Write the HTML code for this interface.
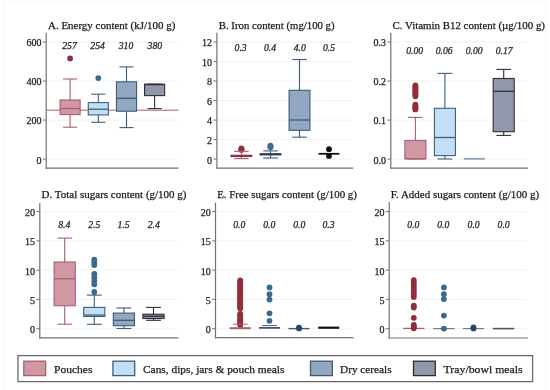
<!DOCTYPE html>
<html><head><meta charset="utf-8"><style>
html,body{margin:0;padding:0;background:#fff;width:550px;height:390px;overflow:hidden}
svg{display:block}
text{font-family:"Liberation Serif", serif;fill:#1c1c1c;stroke:#1c1c1c;stroke-width:0.25px}
.T{filter:grayscale(1)}
.tk{font-size:10px}
.tt{font-size:10.4px}
.lb{font-size:9.7px;font-style:italic}
.lg{font-size:10.6px}
</style></head><body>
<svg width="550" height="390" viewBox="0 0 550 390">
<rect width="550" height="390" fill="#fff"/>
<line x1="47.20" y1="159.10" x2="177.30" y2="159.10" stroke="#eff3f3" stroke-width="1"/>
<line x1="47.20" y1="120.07" x2="177.30" y2="120.07" stroke="#eff3f3" stroke-width="1"/>
<line x1="47.20" y1="81.03" x2="177.30" y2="81.03" stroke="#eff3f3" stroke-width="1"/>
<line x1="47.20" y1="42.00" x2="177.30" y2="42.00" stroke="#eff3f3" stroke-width="1"/>
<line x1="46.20" y1="32.80" x2="46.20" y2="168.70" stroke="#727272" stroke-width="1.2"/>
<line x1="45.60" y1="168.10" x2="178.50" y2="168.10" stroke="#727272" stroke-width="1.2"/>
<line x1="42.80" y1="159.10" x2="46.20" y2="159.10" stroke="#727272" stroke-width="1"/>
<line x1="42.80" y1="120.07" x2="46.20" y2="120.07" stroke="#727272" stroke-width="1"/>
<line x1="42.80" y1="81.03" x2="46.20" y2="81.03" stroke="#727272" stroke-width="1"/>
<line x1="42.80" y1="42.00" x2="46.20" y2="42.00" stroke="#727272" stroke-width="1"/>
<line x1="46.80" y1="110.20" x2="178.50" y2="110.20" stroke="#b55a68" stroke-width="1.0"/>
<circle cx="70.10" cy="58.40" r="2.9" fill="#922e3c"/>
<line x1="70.10" y1="79.00" x2="70.10" y2="100.00" stroke="#a4606e" stroke-width="1.1"/>
<line x1="70.10" y1="114.60" x2="70.10" y2="127.20" stroke="#a4606e" stroke-width="1.1"/>
<line x1="63.06" y1="79.00" x2="77.14" y2="79.00" stroke="#a4606e" stroke-width="1.1"/>
<line x1="63.06" y1="127.20" x2="77.14" y2="127.20" stroke="#a4606e" stroke-width="1.1"/>
<rect x="60.06" y="100.00" width="20.08" height="14.60" fill="#cf98a2" stroke="#a4606e" stroke-width="1.1"/>
<line x1="60.06" y1="108.50" x2="80.14" y2="108.50" stroke="#a4606e" stroke-width="1.3"/>
<circle cx="98.30" cy="78.10" r="2.9" fill="#3b6a8c"/>
<line x1="98.30" y1="94.20" x2="98.30" y2="102.60" stroke="#3d5e80" stroke-width="1.1"/>
<line x1="98.30" y1="114.90" x2="98.30" y2="122.30" stroke="#3d5e80" stroke-width="1.1"/>
<line x1="91.26" y1="94.20" x2="105.34" y2="94.20" stroke="#3d5e80" stroke-width="1.1"/>
<line x1="91.26" y1="122.30" x2="105.34" y2="122.30" stroke="#3d5e80" stroke-width="1.1"/>
<rect x="88.26" y="102.60" width="20.08" height="12.30" fill="#c3dff5" stroke="#3d5e80" stroke-width="1.1"/>
<line x1="88.26" y1="109.20" x2="108.34" y2="109.20" stroke="#3d5e80" stroke-width="1.3"/>
<line x1="126.50" y1="66.90" x2="126.50" y2="81.80" stroke="#3e5a7a" stroke-width="1.1"/>
<line x1="126.50" y1="111.20" x2="126.50" y2="127.60" stroke="#3e5a7a" stroke-width="1.1"/>
<line x1="119.46" y1="66.90" x2="133.54" y2="66.90" stroke="#3e5a7a" stroke-width="1.1"/>
<line x1="119.46" y1="127.60" x2="133.54" y2="127.60" stroke="#3e5a7a" stroke-width="1.1"/>
<rect x="116.46" y="81.80" width="20.08" height="29.40" fill="#91a8c0" stroke="#3e5a7a" stroke-width="1.1"/>
<line x1="116.46" y1="98.30" x2="136.54" y2="98.30" stroke="#3e5a7a" stroke-width="1.3"/>
<line x1="154.60" y1="84.20" x2="154.60" y2="84.20" stroke="#2e2e36" stroke-width="1.1"/>
<line x1="154.60" y1="95.60" x2="154.60" y2="108.60" stroke="#2e2e36" stroke-width="1.1"/>
<line x1="147.56" y1="84.20" x2="161.64" y2="84.20" stroke="#2e2e36" stroke-width="1.1"/>
<line x1="147.56" y1="108.60" x2="161.64" y2="108.60" stroke="#2e2e36" stroke-width="1.1"/>
<rect x="144.56" y="84.20" width="20.08" height="11.40" fill="#9198ac" stroke="#2e2e36" stroke-width="1.1"/>
<line x1="144.56" y1="84.60" x2="164.64" y2="84.60" stroke="#2e2e36" stroke-width="1.3"/>
<line x1="217.90" y1="159.10" x2="352.10" y2="159.10" stroke="#eff3f3" stroke-width="1"/>
<line x1="217.90" y1="139.58" x2="352.10" y2="139.58" stroke="#eff3f3" stroke-width="1"/>
<line x1="217.90" y1="120.07" x2="352.10" y2="120.07" stroke="#eff3f3" stroke-width="1"/>
<line x1="217.90" y1="100.55" x2="352.10" y2="100.55" stroke="#eff3f3" stroke-width="1"/>
<line x1="217.90" y1="81.03" x2="352.10" y2="81.03" stroke="#eff3f3" stroke-width="1"/>
<line x1="217.90" y1="61.52" x2="352.10" y2="61.52" stroke="#eff3f3" stroke-width="1"/>
<line x1="217.90" y1="42.00" x2="352.10" y2="42.00" stroke="#eff3f3" stroke-width="1"/>
<line x1="216.90" y1="32.80" x2="216.90" y2="168.80" stroke="#727272" stroke-width="1.2"/>
<line x1="216.30" y1="168.20" x2="353.30" y2="168.20" stroke="#727272" stroke-width="1.2"/>
<line x1="213.50" y1="159.10" x2="216.90" y2="159.10" stroke="#727272" stroke-width="1"/>
<line x1="213.50" y1="139.58" x2="216.90" y2="139.58" stroke="#727272" stroke-width="1"/>
<line x1="213.50" y1="120.07" x2="216.90" y2="120.07" stroke="#727272" stroke-width="1"/>
<line x1="213.50" y1="100.55" x2="216.90" y2="100.55" stroke="#727272" stroke-width="1"/>
<line x1="213.50" y1="81.03" x2="216.90" y2="81.03" stroke="#727272" stroke-width="1"/>
<line x1="213.50" y1="61.52" x2="216.90" y2="61.52" stroke="#727272" stroke-width="1"/>
<line x1="213.50" y1="42.00" x2="216.90" y2="42.00" stroke="#727272" stroke-width="1"/>
<circle cx="241.40" cy="148.40" r="2.9" fill="#922e3c"/>
<circle cx="241.40" cy="149.15" r="2.9" fill="#922e3c"/>
<circle cx="241.40" cy="149.90" r="2.9" fill="#922e3c"/>
<line x1="241.40" y1="151.30" x2="241.40" y2="155.30" stroke="#a4606e" stroke-width="1.1"/>
<line x1="241.40" y1="156.50" x2="241.40" y2="158.60" stroke="#a4606e" stroke-width="1.1"/>
<line x1="234.10" y1="151.30" x2="248.70" y2="151.30" stroke="#a4606e" stroke-width="1.1"/>
<line x1="234.10" y1="158.60" x2="248.70" y2="158.60" stroke="#a4606e" stroke-width="1.1"/>
<rect x="230.97" y="155.30" width="20.85" height="1.20" fill="#8f2b3c" stroke="#8f2b3c" stroke-width="1.1"/>
<circle cx="270.50" cy="145.60" r="2.9" fill="#3b6a8c"/>
<circle cx="270.50" cy="146.45" r="2.9" fill="#3b6a8c"/>
<circle cx="270.50" cy="147.30" r="2.9" fill="#3b6a8c"/>
<line x1="270.50" y1="150.90" x2="270.50" y2="153.70" stroke="#3d5e80" stroke-width="1.1"/>
<line x1="270.50" y1="154.90" x2="270.50" y2="158.00" stroke="#3d5e80" stroke-width="1.1"/>
<line x1="263.20" y1="150.90" x2="277.80" y2="150.90" stroke="#3d5e80" stroke-width="1.1"/>
<line x1="263.20" y1="158.00" x2="277.80" y2="158.00" stroke="#3d5e80" stroke-width="1.1"/>
<rect x="260.07" y="153.70" width="20.85" height="1.20" fill="#2c3c62" stroke="#2c3c62" stroke-width="1.1"/>
<line x1="299.50" y1="59.50" x2="299.50" y2="90.30" stroke="#3e5a7a" stroke-width="1.1"/>
<line x1="299.50" y1="130.30" x2="299.50" y2="137.20" stroke="#3e5a7a" stroke-width="1.1"/>
<line x1="292.20" y1="59.50" x2="306.80" y2="59.50" stroke="#3e5a7a" stroke-width="1.1"/>
<line x1="292.20" y1="137.20" x2="306.80" y2="137.20" stroke="#3e5a7a" stroke-width="1.1"/>
<rect x="289.07" y="90.30" width="20.85" height="40.00" fill="#91a8c0" stroke="#3e5a7a" stroke-width="1.1"/>
<line x1="289.07" y1="120.00" x2="309.93" y2="120.00" stroke="#3e5a7a" stroke-width="1.3"/>
<circle cx="329.00" cy="149.20" r="2.9" fill="#111111"/>
<circle cx="329.00" cy="155.90" r="2.9" fill="#111111"/>
<line x1="318.57" y1="153.80" x2="339.43" y2="153.80" stroke="#111" stroke-width="1.8"/>
<line x1="391.80" y1="159.10" x2="526.80" y2="159.10" stroke="#eff3f3" stroke-width="1"/>
<line x1="391.80" y1="120.07" x2="526.80" y2="120.07" stroke="#eff3f3" stroke-width="1"/>
<line x1="391.80" y1="81.03" x2="526.80" y2="81.03" stroke="#eff3f3" stroke-width="1"/>
<line x1="391.80" y1="42.00" x2="526.80" y2="42.00" stroke="#eff3f3" stroke-width="1"/>
<line x1="390.80" y1="32.80" x2="390.80" y2="168.70" stroke="#727272" stroke-width="1.2"/>
<line x1="390.20" y1="168.10" x2="528.00" y2="168.10" stroke="#727272" stroke-width="1.2"/>
<line x1="387.40" y1="159.10" x2="390.80" y2="159.10" stroke="#727272" stroke-width="1"/>
<line x1="387.40" y1="120.07" x2="390.80" y2="120.07" stroke="#727272" stroke-width="1"/>
<line x1="387.40" y1="81.03" x2="390.80" y2="81.03" stroke="#727272" stroke-width="1"/>
<line x1="387.40" y1="42.00" x2="390.80" y2="42.00" stroke="#727272" stroke-width="1"/>
<circle cx="415.40" cy="85.50" r="2.9" fill="#922e3c"/>
<circle cx="415.40" cy="86.70" r="2.9" fill="#922e3c"/>
<circle cx="415.40" cy="87.90" r="2.9" fill="#922e3c"/>
<circle cx="415.40" cy="89.10" r="2.9" fill="#922e3c"/>
<circle cx="415.40" cy="90.30" r="2.9" fill="#922e3c"/>
<circle cx="415.40" cy="91.50" r="2.9" fill="#922e3c"/>
<circle cx="415.40" cy="92.70" r="2.9" fill="#922e3c"/>
<circle cx="415.40" cy="93.90" r="2.9" fill="#922e3c"/>
<circle cx="415.40" cy="95.10" r="2.9" fill="#922e3c"/>
<circle cx="415.40" cy="96.30" r="2.9" fill="#922e3c"/>
<circle cx="415.40" cy="104.60" r="2.9" fill="#922e3c"/>
<circle cx="415.40" cy="105.80" r="2.9" fill="#922e3c"/>
<circle cx="415.40" cy="107.00" r="2.9" fill="#922e3c"/>
<circle cx="415.40" cy="108.20" r="2.9" fill="#922e3c"/>
<circle cx="415.40" cy="109.40" r="2.9" fill="#922e3c"/>
<line x1="415.40" y1="117.40" x2="415.40" y2="140.40" stroke="#a4606e" stroke-width="1.1"/>
<line x1="415.40" y1="158.80" x2="415.40" y2="158.80" stroke="#a4606e" stroke-width="1.1"/>
<line x1="408.04" y1="117.40" x2="422.76" y2="117.40" stroke="#a4606e" stroke-width="1.1"/>
<line x1="408.04" y1="158.80" x2="422.76" y2="158.80" stroke="#a4606e" stroke-width="1.1"/>
<rect x="404.89" y="140.40" width="21.03" height="18.40" fill="#cf98a2" stroke="#a4606e" stroke-width="1.1"/>
<line x1="404.89" y1="158.80" x2="425.91" y2="158.80" stroke="#a4606e" stroke-width="1.3"/>
<line x1="444.90" y1="73.40" x2="444.90" y2="108.30" stroke="#3d5e80" stroke-width="1.1"/>
<line x1="444.90" y1="155.60" x2="444.90" y2="159.00" stroke="#3d5e80" stroke-width="1.1"/>
<line x1="437.54" y1="73.40" x2="452.26" y2="73.40" stroke="#3d5e80" stroke-width="1.1"/>
<line x1="437.54" y1="159.00" x2="452.26" y2="159.00" stroke="#3d5e80" stroke-width="1.1"/>
<rect x="434.39" y="108.30" width="21.03" height="47.30" fill="#c3dff5" stroke="#3d5e80" stroke-width="1.1"/>
<line x1="434.39" y1="137.50" x2="455.41" y2="137.50" stroke="#3d5e80" stroke-width="1.3"/>
<line x1="463.79" y1="158.90" x2="484.81" y2="158.90" stroke="#6b84a0" stroke-width="1.3"/>
<line x1="503.70" y1="69.40" x2="503.70" y2="78.50" stroke="#2e2e36" stroke-width="1.1"/>
<line x1="503.70" y1="131.70" x2="503.70" y2="135.40" stroke="#2e2e36" stroke-width="1.1"/>
<line x1="496.34" y1="69.40" x2="511.06" y2="69.40" stroke="#2e2e36" stroke-width="1.1"/>
<line x1="496.34" y1="135.40" x2="511.06" y2="135.40" stroke="#2e2e36" stroke-width="1.1"/>
<rect x="493.19" y="78.50" width="21.03" height="53.20" fill="#9198ac" stroke="#2e2e36" stroke-width="1.1"/>
<line x1="493.19" y1="91.30" x2="514.21" y2="91.30" stroke="#2e2e36" stroke-width="1.3"/>
<line x1="40.80" y1="328.70" x2="177.20" y2="328.70" stroke="#eff3f3" stroke-width="1"/>
<line x1="40.80" y1="299.43" x2="177.20" y2="299.43" stroke="#eff3f3" stroke-width="1"/>
<line x1="40.80" y1="270.15" x2="177.20" y2="270.15" stroke="#eff3f3" stroke-width="1"/>
<line x1="40.80" y1="240.88" x2="177.20" y2="240.88" stroke="#eff3f3" stroke-width="1"/>
<line x1="40.80" y1="211.60" x2="177.20" y2="211.60" stroke="#eff3f3" stroke-width="1"/>
<line x1="39.80" y1="203.00" x2="39.80" y2="338.40" stroke="#727272" stroke-width="1.2"/>
<line x1="39.20" y1="337.80" x2="178.40" y2="337.80" stroke="#727272" stroke-width="1.2"/>
<line x1="36.40" y1="328.70" x2="39.80" y2="328.70" stroke="#727272" stroke-width="1"/>
<line x1="36.40" y1="299.43" x2="39.80" y2="299.43" stroke="#727272" stroke-width="1"/>
<line x1="36.40" y1="270.15" x2="39.80" y2="270.15" stroke="#727272" stroke-width="1"/>
<line x1="36.40" y1="240.88" x2="39.80" y2="240.88" stroke="#727272" stroke-width="1"/>
<line x1="36.40" y1="211.60" x2="39.80" y2="211.60" stroke="#727272" stroke-width="1"/>
<line x1="64.70" y1="238.10" x2="64.70" y2="262.00" stroke="#a4606e" stroke-width="1.1"/>
<line x1="64.70" y1="305.70" x2="64.70" y2="324.20" stroke="#a4606e" stroke-width="1.1"/>
<line x1="57.30" y1="238.10" x2="72.10" y2="238.10" stroke="#a4606e" stroke-width="1.1"/>
<line x1="57.30" y1="324.20" x2="72.10" y2="324.20" stroke="#a4606e" stroke-width="1.1"/>
<rect x="54.12" y="262.00" width="21.15" height="43.70" fill="#cf98a2" stroke="#a4606e" stroke-width="1.1"/>
<line x1="54.12" y1="278.80" x2="75.28" y2="278.80" stroke="#a4606e" stroke-width="1.3"/>
<circle cx="94.30" cy="259.70" r="2.9" fill="#3b6a8c"/>
<circle cx="94.30" cy="262.30" r="2.9" fill="#3b6a8c"/>
<circle cx="94.30" cy="265.00" r="2.9" fill="#3b6a8c"/>
<circle cx="94.30" cy="274.00" r="2.9" fill="#3b6a8c"/>
<circle cx="94.30" cy="277.40" r="2.9" fill="#3b6a8c"/>
<circle cx="94.30" cy="280.80" r="2.9" fill="#3b6a8c"/>
<circle cx="94.30" cy="284.30" r="2.9" fill="#3b6a8c"/>
<circle cx="94.30" cy="292.00" r="2.9" fill="#3b6a8c"/>
<line x1="94.30" y1="295.10" x2="94.30" y2="307.40" stroke="#3d5e80" stroke-width="1.1"/>
<line x1="94.30" y1="316.50" x2="94.30" y2="324.30" stroke="#3d5e80" stroke-width="1.1"/>
<line x1="86.90" y1="295.10" x2="101.70" y2="295.10" stroke="#3d5e80" stroke-width="1.1"/>
<line x1="86.90" y1="324.30" x2="101.70" y2="324.30" stroke="#3d5e80" stroke-width="1.1"/>
<rect x="83.72" y="307.40" width="21.15" height="9.10" fill="#c3dff5" stroke="#3d5e80" stroke-width="1.1"/>
<line x1="83.72" y1="315.10" x2="104.88" y2="315.10" stroke="#3d5e80" stroke-width="1.3"/>
<line x1="123.90" y1="308.00" x2="123.90" y2="313.10" stroke="#3e5a7a" stroke-width="1.1"/>
<line x1="123.90" y1="325.70" x2="123.90" y2="328.50" stroke="#3e5a7a" stroke-width="1.1"/>
<line x1="116.50" y1="308.00" x2="131.30" y2="308.00" stroke="#3e5a7a" stroke-width="1.1"/>
<line x1="116.50" y1="328.50" x2="131.30" y2="328.50" stroke="#3e5a7a" stroke-width="1.1"/>
<rect x="113.32" y="313.10" width="21.15" height="12.60" fill="#91a8c0" stroke="#3e5a7a" stroke-width="1.1"/>
<line x1="113.32" y1="320.30" x2="134.48" y2="320.30" stroke="#3e5a7a" stroke-width="1.3"/>
<line x1="153.50" y1="307.40" x2="153.50" y2="314.20" stroke="#2e2e36" stroke-width="1.1"/>
<line x1="153.50" y1="318.50" x2="153.50" y2="320.30" stroke="#2e2e36" stroke-width="1.1"/>
<line x1="146.10" y1="307.40" x2="160.90" y2="307.40" stroke="#2e2e36" stroke-width="1.1"/>
<line x1="146.10" y1="320.30" x2="160.90" y2="320.30" stroke="#2e2e36" stroke-width="1.1"/>
<rect x="142.92" y="314.20" width="21.15" height="4.30" fill="#9198ac" stroke="#2e2e36" stroke-width="1.1"/>
<line x1="142.92" y1="316.20" x2="164.08" y2="316.20" stroke="#2e2e36" stroke-width="1.3"/>
<line x1="216.50" y1="328.70" x2="352.30" y2="328.70" stroke="#eff3f3" stroke-width="1"/>
<line x1="216.50" y1="299.43" x2="352.30" y2="299.43" stroke="#eff3f3" stroke-width="1"/>
<line x1="216.50" y1="270.15" x2="352.30" y2="270.15" stroke="#eff3f3" stroke-width="1"/>
<line x1="216.50" y1="240.88" x2="352.30" y2="240.88" stroke="#eff3f3" stroke-width="1"/>
<line x1="216.50" y1="211.60" x2="352.30" y2="211.60" stroke="#eff3f3" stroke-width="1"/>
<line x1="215.50" y1="202.70" x2="215.50" y2="338.30" stroke="#727272" stroke-width="1.2"/>
<line x1="214.90" y1="337.70" x2="353.50" y2="337.70" stroke="#727272" stroke-width="1.2"/>
<line x1="212.10" y1="328.70" x2="215.50" y2="328.70" stroke="#727272" stroke-width="1"/>
<line x1="212.10" y1="299.43" x2="215.50" y2="299.43" stroke="#727272" stroke-width="1"/>
<line x1="212.10" y1="270.15" x2="215.50" y2="270.15" stroke="#727272" stroke-width="1"/>
<line x1="212.10" y1="240.88" x2="215.50" y2="240.88" stroke="#727272" stroke-width="1"/>
<line x1="212.10" y1="211.60" x2="215.50" y2="211.60" stroke="#727272" stroke-width="1"/>
<circle cx="240.20" cy="280.40" r="2.9" fill="#922e3c"/>
<circle cx="240.20" cy="281.80" r="2.9" fill="#922e3c"/>
<circle cx="240.20" cy="283.20" r="2.9" fill="#922e3c"/>
<circle cx="240.20" cy="284.60" r="2.9" fill="#922e3c"/>
<circle cx="240.20" cy="286.00" r="2.9" fill="#922e3c"/>
<circle cx="240.20" cy="287.40" r="2.9" fill="#922e3c"/>
<circle cx="240.20" cy="288.80" r="2.9" fill="#922e3c"/>
<circle cx="240.20" cy="290.20" r="2.9" fill="#922e3c"/>
<circle cx="240.20" cy="291.60" r="2.9" fill="#922e3c"/>
<circle cx="240.20" cy="293.00" r="2.9" fill="#922e3c"/>
<circle cx="240.20" cy="294.40" r="2.9" fill="#922e3c"/>
<circle cx="240.20" cy="295.80" r="2.9" fill="#922e3c"/>
<circle cx="240.20" cy="297.20" r="2.9" fill="#922e3c"/>
<circle cx="240.20" cy="298.60" r="2.9" fill="#922e3c"/>
<circle cx="240.20" cy="300.00" r="2.9" fill="#922e3c"/>
<circle cx="240.20" cy="301.40" r="2.9" fill="#922e3c"/>
<circle cx="240.20" cy="302.80" r="2.9" fill="#922e3c"/>
<circle cx="240.20" cy="304.20" r="2.9" fill="#922e3c"/>
<circle cx="240.20" cy="305.60" r="2.9" fill="#922e3c"/>
<circle cx="240.20" cy="307.00" r="2.9" fill="#922e3c"/>
<circle cx="240.20" cy="308.40" r="2.9" fill="#922e3c"/>
<circle cx="240.20" cy="313.80" r="2.9" fill="#922e3c"/>
<circle cx="240.20" cy="315.20" r="2.9" fill="#922e3c"/>
<circle cx="240.20" cy="316.60" r="2.9" fill="#922e3c"/>
<circle cx="240.20" cy="318.00" r="2.9" fill="#922e3c"/>
<circle cx="240.20" cy="319.40" r="2.9" fill="#922e3c"/>
<circle cx="240.20" cy="320.80" r="2.9" fill="#922e3c"/>
<circle cx="240.20" cy="322.20" r="2.9" fill="#922e3c"/>
<circle cx="240.20" cy="323.60" r="2.9" fill="#922e3c"/>
<circle cx="240.20" cy="325.00" r="2.9" fill="#922e3c"/>
<line x1="229.66" y1="328.20" x2="250.74" y2="328.20" stroke="#a4606e" stroke-width="2.0"/>
<line x1="232.82" y1="324.20" x2="247.57" y2="324.20" stroke="#a4606e" stroke-width="1"/>
<circle cx="269.50" cy="287.40" r="2.9" fill="#3b6a8c"/>
<circle cx="269.50" cy="294.20" r="2.9" fill="#3b6a8c"/>
<circle cx="269.50" cy="299.60" r="2.9" fill="#3b6a8c"/>
<circle cx="269.50" cy="313.30" r="2.9" fill="#3b6a8c"/>
<circle cx="269.50" cy="320.80" r="2.9" fill="#3b6a8c"/>
<line x1="258.96" y1="327.90" x2="280.04" y2="327.90" stroke="#2a3356" stroke-width="1.5"/>
<line x1="262.12" y1="325.60" x2="276.88" y2="325.60" stroke="#3d5e80" stroke-width="1"/>
<line x1="288.46" y1="328.60" x2="309.54" y2="328.60" stroke="#3e5a7a" stroke-width="1.4"/>
<circle cx="299.00" cy="327.60" r="2.9" fill="#25466f"/>
<circle cx="299.00" cy="328.40" r="2.9" fill="#25466f"/>
<line x1="318.16" y1="327.70" x2="339.24" y2="327.70" stroke="#111" stroke-width="2.2"/>
<line x1="390.20" y1="328.70" x2="526.60" y2="328.70" stroke="#eff3f3" stroke-width="1"/>
<line x1="390.20" y1="299.43" x2="526.60" y2="299.43" stroke="#eff3f3" stroke-width="1"/>
<line x1="390.20" y1="270.15" x2="526.60" y2="270.15" stroke="#eff3f3" stroke-width="1"/>
<line x1="390.20" y1="240.88" x2="526.60" y2="240.88" stroke="#eff3f3" stroke-width="1"/>
<line x1="390.20" y1="211.60" x2="526.60" y2="211.60" stroke="#eff3f3" stroke-width="1"/>
<line x1="389.20" y1="202.00" x2="389.20" y2="338.60" stroke="#727272" stroke-width="1.2"/>
<line x1="388.60" y1="338.00" x2="527.80" y2="338.00" stroke="#727272" stroke-width="1.2"/>
<line x1="385.80" y1="328.70" x2="389.20" y2="328.70" stroke="#727272" stroke-width="1"/>
<line x1="385.80" y1="299.43" x2="389.20" y2="299.43" stroke="#727272" stroke-width="1"/>
<line x1="385.80" y1="270.15" x2="389.20" y2="270.15" stroke="#727272" stroke-width="1"/>
<line x1="385.80" y1="240.88" x2="389.20" y2="240.88" stroke="#727272" stroke-width="1"/>
<line x1="385.80" y1="211.60" x2="389.20" y2="211.60" stroke="#727272" stroke-width="1"/>
<line x1="403.11" y1="328.40" x2="424.49" y2="328.40" stroke="#a4606e" stroke-width="1.3"/>
<circle cx="413.80" cy="280.10" r="2.9" fill="#922e3c"/>
<circle cx="413.80" cy="282.40" r="2.9" fill="#922e3c"/>
<circle cx="413.80" cy="284.60" r="2.9" fill="#922e3c"/>
<circle cx="413.80" cy="287.10" r="2.9" fill="#922e3c"/>
<circle cx="413.80" cy="289.60" r="2.9" fill="#922e3c"/>
<circle cx="413.80" cy="292.10" r="2.9" fill="#922e3c"/>
<circle cx="413.80" cy="294.40" r="2.9" fill="#922e3c"/>
<circle cx="413.80" cy="296.90" r="2.9" fill="#922e3c"/>
<circle cx="413.80" cy="305.60" r="2.9" fill="#922e3c"/>
<circle cx="413.80" cy="307.60" r="2.9" fill="#922e3c"/>
<circle cx="413.80" cy="317.80" r="2.9" fill="#922e3c"/>
<circle cx="413.80" cy="325.00" r="2.9" fill="#922e3c"/>
<circle cx="413.80" cy="326.60" r="2.9" fill="#922e3c"/>
<circle cx="413.80" cy="328.30" r="2.9" fill="#922e3c"/>
<line x1="433.21" y1="328.60" x2="454.59" y2="328.60" stroke="#6b7d99" stroke-width="1.2"/>
<circle cx="443.90" cy="287.40" r="2.9" fill="#3b6a8c"/>
<circle cx="443.90" cy="294.20" r="2.9" fill="#3b6a8c"/>
<circle cx="443.90" cy="299.10" r="2.9" fill="#3b6a8c"/>
<circle cx="443.90" cy="315.60" r="2.9" fill="#3b6a8c"/>
<circle cx="443.90" cy="328.60" r="2.9" fill="#3b6a8c"/>
<line x1="462.81" y1="328.60" x2="484.19" y2="328.60" stroke="#6b7d99" stroke-width="1.2"/>
<circle cx="473.50" cy="327.40" r="2.9" fill="#25466f"/>
<circle cx="473.50" cy="328.40" r="2.9" fill="#25466f"/>
<line x1="492.81" y1="328.60" x2="514.19" y2="328.60" stroke="#555" stroke-width="1.6"/>
<rect x="18.0" y="355.6" width="514.6" height="26.0" fill="none" stroke="#6a6a6a" stroke-width="1.3"/>
<rect x="23.80" y="361.2" width="21.8" height="14.4" fill="#cf98a2" stroke="#a4606e" stroke-width="1.3"/>
<rect x="112.90" y="361.2" width="21.8" height="14.4" fill="#c3dff5" stroke="#3d5e80" stroke-width="1.3"/>
<rect x="310.50" y="361.2" width="21.8" height="14.4" fill="#91a8c0" stroke="#3e5a7a" stroke-width="1.3"/>
<rect x="413.50" y="361.2" width="21.8" height="14.4" fill="#9198ac" stroke="#2e2e36" stroke-width="1.3"/>
<rect x="4.5" y="1.5" width="540.8" height="400" fill="none" stroke="#f8f8f8" stroke-width="1"/>
<g class="T"><text x="41.40" y="163.50" text-anchor="end" class="tk">0</text>
<text x="41.40" y="124.47" text-anchor="end" class="tk">200</text>
<text x="41.40" y="85.43" text-anchor="end" class="tk">400</text>
<text x="41.40" y="46.40" text-anchor="end" class="tk">600</text>
<text x="48.00" y="28.70" class="tt" textLength="127.30" lengthAdjust="spacingAndGlyphs">A. Energy content (kJ/100 g)</text>
<text x="69.50" y="48.60" text-anchor="middle" class="lb">257</text>
<text x="97.60" y="48.60" text-anchor="middle" class="lb">254</text>
<text x="126.00" y="48.60" text-anchor="middle" class="lb">310</text>
<text x="154.80" y="48.60" text-anchor="middle" class="lb">380</text>
<text x="212.10" y="163.50" text-anchor="end" class="tk">0</text>
<text x="212.10" y="143.98" text-anchor="end" class="tk">2</text>
<text x="212.10" y="124.47" text-anchor="end" class="tk">4</text>
<text x="212.10" y="104.95" text-anchor="end" class="tk">6</text>
<text x="212.10" y="85.43" text-anchor="end" class="tk">8</text>
<text x="212.10" y="65.92" text-anchor="end" class="tk">10</text>
<text x="212.10" y="46.40" text-anchor="end" class="tk">12</text>
<text x="218.80" y="28.70" class="tt" textLength="115.80" lengthAdjust="spacingAndGlyphs">B. Iron content (mg/100 g)</text>
<text x="240.60" y="51.40" text-anchor="middle" class="lb">0.3</text>
<text x="270.00" y="51.40" text-anchor="middle" class="lb">0.4</text>
<text x="299.70" y="51.40" text-anchor="middle" class="lb">4.0</text>
<text x="329.00" y="51.40" text-anchor="middle" class="lb">0.5</text>
<text x="386.00" y="163.50" text-anchor="end" class="tk">0.0</text>
<text x="386.00" y="124.47" text-anchor="end" class="tk">0.1</text>
<text x="386.00" y="85.43" text-anchor="end" class="tk">0.2</text>
<text x="386.00" y="46.40" text-anchor="end" class="tk">0.3</text>
<text x="392.40" y="28.70" class="tt" textLength="152.60" lengthAdjust="spacingAndGlyphs">C. Vitamin B12 content (µg/100 g)</text>
<text x="414.70" y="53.50" text-anchor="middle" class="lb">0.00</text>
<text x="444.20" y="53.50" text-anchor="middle" class="lb">0.06</text>
<text x="474.20" y="53.50" text-anchor="middle" class="lb">0.00</text>
<text x="504.20" y="53.50" text-anchor="middle" class="lb">0.17</text>
<text x="35.00" y="333.10" text-anchor="end" class="tk">0</text>
<text x="35.00" y="303.82" text-anchor="end" class="tk">5</text>
<text x="35.00" y="274.55" text-anchor="end" class="tk">10</text>
<text x="35.00" y="245.28" text-anchor="end" class="tk">15</text>
<text x="35.00" y="216.00" text-anchor="end" class="tk">20</text>
<text x="41.60" y="198.20" class="tt" textLength="144.90" lengthAdjust="spacingAndGlyphs">D. Total sugars content (g/100 g)</text>
<text x="64.20" y="227.50" text-anchor="middle" class="lb">8.4</text>
<text x="94.20" y="227.50" text-anchor="middle" class="lb">2.5</text>
<text x="123.50" y="227.50" text-anchor="middle" class="lb">1.5</text>
<text x="153.80" y="227.50" text-anchor="middle" class="lb">2.4</text>
<text x="210.70" y="333.10" text-anchor="end" class="tk">0</text>
<text x="210.70" y="303.82" text-anchor="end" class="tk">5</text>
<text x="210.70" y="274.55" text-anchor="end" class="tk">10</text>
<text x="210.70" y="245.28" text-anchor="end" class="tk">15</text>
<text x="210.70" y="216.00" text-anchor="end" class="tk">20</text>
<text x="217.20" y="198.20" class="tt" textLength="139.70" lengthAdjust="spacingAndGlyphs">E. Free sugars content (g/100 g)</text>
<text x="239.20" y="227.50" text-anchor="middle" class="lb">0.0</text>
<text x="269.20" y="227.50" text-anchor="middle" class="lb">0.0</text>
<text x="299.20" y="227.50" text-anchor="middle" class="lb">0.0</text>
<text x="328.50" y="227.50" text-anchor="middle" class="lb">0.3</text>
<text x="384.40" y="333.10" text-anchor="end" class="tk">0</text>
<text x="384.40" y="303.82" text-anchor="end" class="tk">5</text>
<text x="384.40" y="274.55" text-anchor="end" class="tk">10</text>
<text x="384.40" y="245.28" text-anchor="end" class="tk">15</text>
<text x="384.40" y="216.00" text-anchor="end" class="tk">20</text>
<text x="390.80" y="198.20" class="tt" textLength="148.40" lengthAdjust="spacingAndGlyphs">F. Added sugars content (g/100 g)</text>
<text x="413.40" y="227.50" text-anchor="middle" class="lb">0.0</text>
<text x="443.30" y="227.50" text-anchor="middle" class="lb">0.0</text>
<text x="473.60" y="227.50" text-anchor="middle" class="lb">0.0</text>
<text x="503.60" y="227.50" text-anchor="middle" class="lb">0.0</text>
<text x="54.10" y="372.7" class="lg" textLength="38.30" lengthAdjust="spacingAndGlyphs">Pouches</text>
<text x="143.00" y="372.7" class="lg" textLength="141.40" lengthAdjust="spacingAndGlyphs">Cans, dips, jars &amp; pouch meals</text>
<text x="340.00" y="372.7" class="lg" textLength="51.60" lengthAdjust="spacingAndGlyphs">Dry cereals</text>
<text x="443.60" y="372.7" class="lg" textLength="79.00" lengthAdjust="spacingAndGlyphs">Tray/bowl meals</text></g>
</svg>
</body></html>
